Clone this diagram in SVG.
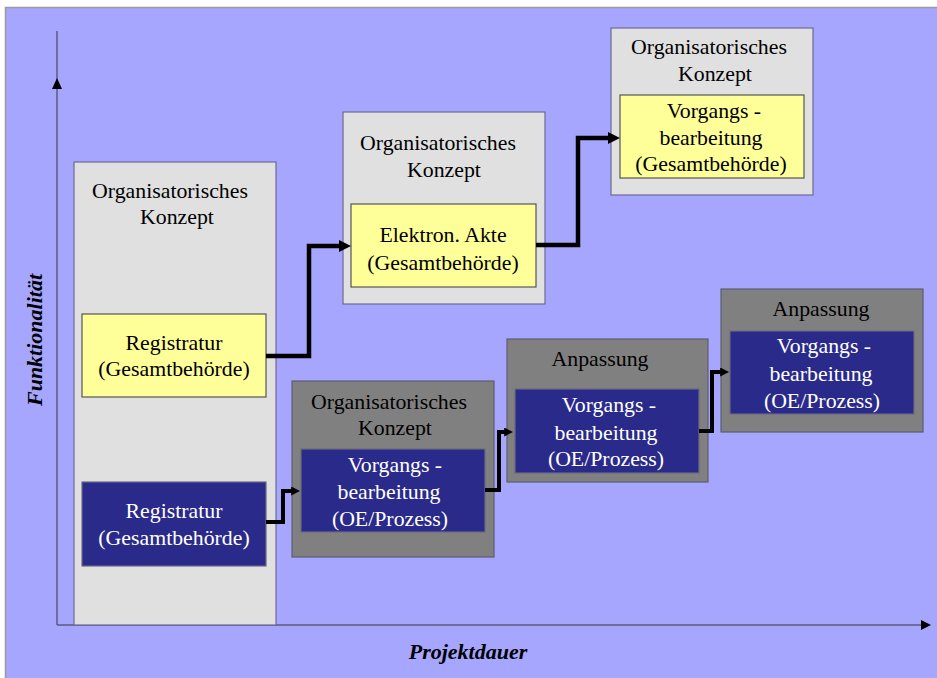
<svg xmlns="http://www.w3.org/2000/svg" width="937" height="678" viewBox="0 0 937 678">
<style>
.bg{fill:#A6A6FF;stroke:#9A9A9A;stroke-width:1.5}
.axis{stroke:#5A5A7E;stroke-width:1.5;fill:none}
.pl{fill:#E0E0E0;stroke:#6A6A96;stroke-width:1.2}
.pd{fill:#808080;stroke:#5E5E70;stroke-width:1.2}
.y{fill:#FFFF99;stroke:#555555;stroke-width:1.2}
.b{fill:#2A2A8A;stroke:#6A6A80;stroke-width:1.2}
text{font-size:21.8px;text-anchor:middle}
.k{fill:#000}
.w{fill:#FFFFFF}
.lab{font-weight:bold;font-style:italic;font-size:22px;fill:#000}
.con{fill:none;stroke:#000;stroke-width:4.5;stroke-linejoin:miter}
.con2{fill:none;stroke:#000;stroke-width:4;stroke-linejoin:miter}
</style>
<defs>
<marker id="aL" viewBox="0 0 12 12" refX="2" refY="6" markerWidth="12" markerHeight="12" markerUnits="userSpaceOnUse" orient="auto"><path d="M0,0 L12,6 L0,12 z" fill="#000"/></marker>
<marker id="aS" viewBox="0 0 10 10" refX="2" refY="5" markerWidth="9" markerHeight="9" markerUnits="userSpaceOnUse" orient="auto"><path d="M0,0 L10,5 L0,10 z" fill="#000"/></marker>
</defs>
<rect class="bg" x="5.5" y="7.5" width="940" height="680"/>
<g font-family="'Liberation Serif', 'DejaVu Serif', serif">
<g id="axes">
<line class="axis" x1="57" y1="31" x2="57" y2="625"/>
<polygon points="57,78 52,89 62,89" fill="#000"/>
<line class="axis" x1="57" y1="625" x2="925" y2="625"/>
<polygon points="931,625 921,620 921,630" fill="#000"/>
<text class="lab" transform="translate(42,340) rotate(-90)">Funktionalität</text>
<text class="lab" x="468" y="659">Projektdauer</text>
</g>
<g id="panel1">
<rect class="pl" x="74" y="162" width="202" height="463"/>
<text class="k" x="170" y="198">Organisatorisches</text>
<text class="k" x="177" y="224">Konzept</text>
</g>
<g id="node-registratur-gelb">
<rect class="y" x="82" y="314" width="184" height="83"/>
<text class="k" x="174" y="350">Registratur</text>
<text class="k" x="174" y="376">(Gesamtbehörde)</text>
</g>
<g id="node-registratur-blau">
<rect class="b" x="82" y="482" width="184" height="84"/>
<text class="w" x="174" y="518">Registratur</text>
<text class="w" x="174" y="545">(Gesamtbehörde)</text>
</g>
<g id="panel2">
<rect class="pl" x="343" y="112" width="202" height="192"/>
<text class="k" x="438" y="150">Organisatorisches</text>
<text class="k" x="444" y="177">Konzept</text>
</g>
<g id="node-elektron-akte">
<rect class="y" x="351" y="204" width="185" height="83"/>
<text class="k" x="443" y="242">Elektron. Akte</text>
<text class="k" x="443" y="270">(Gesamtbehörde)</text>
</g>
<g id="panel3">
<rect class="pl" x="611" y="28" width="202" height="167"/>
<text class="k" x="709" y="54">Organisatorisches</text>
<text class="k" x="715" y="81">Konzept</text>
</g>
<g id="node-vorgang-gesamt">
<rect class="y" x="620" y="95" width="184" height="83"/>
<text class="k" x="714" y="118">Vorgangs -</text>
<text class="k" x="711" y="145">bearbeitung</text>
<text class="k" x="711" y="171">(Gesamtbehörde)</text>
</g>
<g id="panel4">
<rect class="pd" x="292" y="381" width="202" height="176"/>
<text class="k" x="389" y="409">Organisatorisches</text>
<text class="k" x="395" y="435">Konzept</text>
</g>
<g id="node-vorgang-oe1">
<rect class="b" x="301" y="449" width="184" height="83"/>
<text class="w" x="395" y="472">Vorgangs -</text>
<text class="w" x="389" y="499">bearbeitung</text>
<text class="w" x="390" y="526">(OE/Prozess)</text>
</g>
<g id="panel5">
<rect class="pd" x="507" y="339" width="201" height="143"/>
<text class="k" x="600" y="366">Anpassung</text>
</g>
<g id="node-vorgang-oe2">
<rect class="b" x="515" y="389" width="184" height="84"/>
<text class="w" x="609" y="412">Vorgangs -</text>
<text class="w" x="606" y="440">bearbeitung</text>
<text class="w" x="606" y="466">(OE/Prozess)</text>
</g>
<g id="panel6">
<rect class="pd" x="721" y="289" width="202" height="143"/>
<text class="k" x="821" y="316">Anpassung</text>
</g>
<g id="node-vorgang-oe3">
<rect class="b" x="730" y="331" width="184" height="83"/>
<text class="w" x="824" y="353">Vorgangs -</text>
<text class="w" x="821" y="381">bearbeitung</text>
<text class="w" x="822" y="408">(OE/Prozess)</text>
</g>
</g>
<g id="connectors">
<path class="con" d="M266,356 H309 V246 H341" marker-end="url(#aL)"/>
<path class="con" d="M536,245 H578 V138 H610" marker-end="url(#aL)"/>
<path class="con2" d="M266,522 H283 V491 H293" marker-end="url(#aS)"/>
<path class="con2" d="M485,490 H499 V432 H506" marker-end="url(#aS)"/>
<path class="con2" d="M699,431 H712 V372 H722" marker-end="url(#aS)"/>
</g>
</svg>
